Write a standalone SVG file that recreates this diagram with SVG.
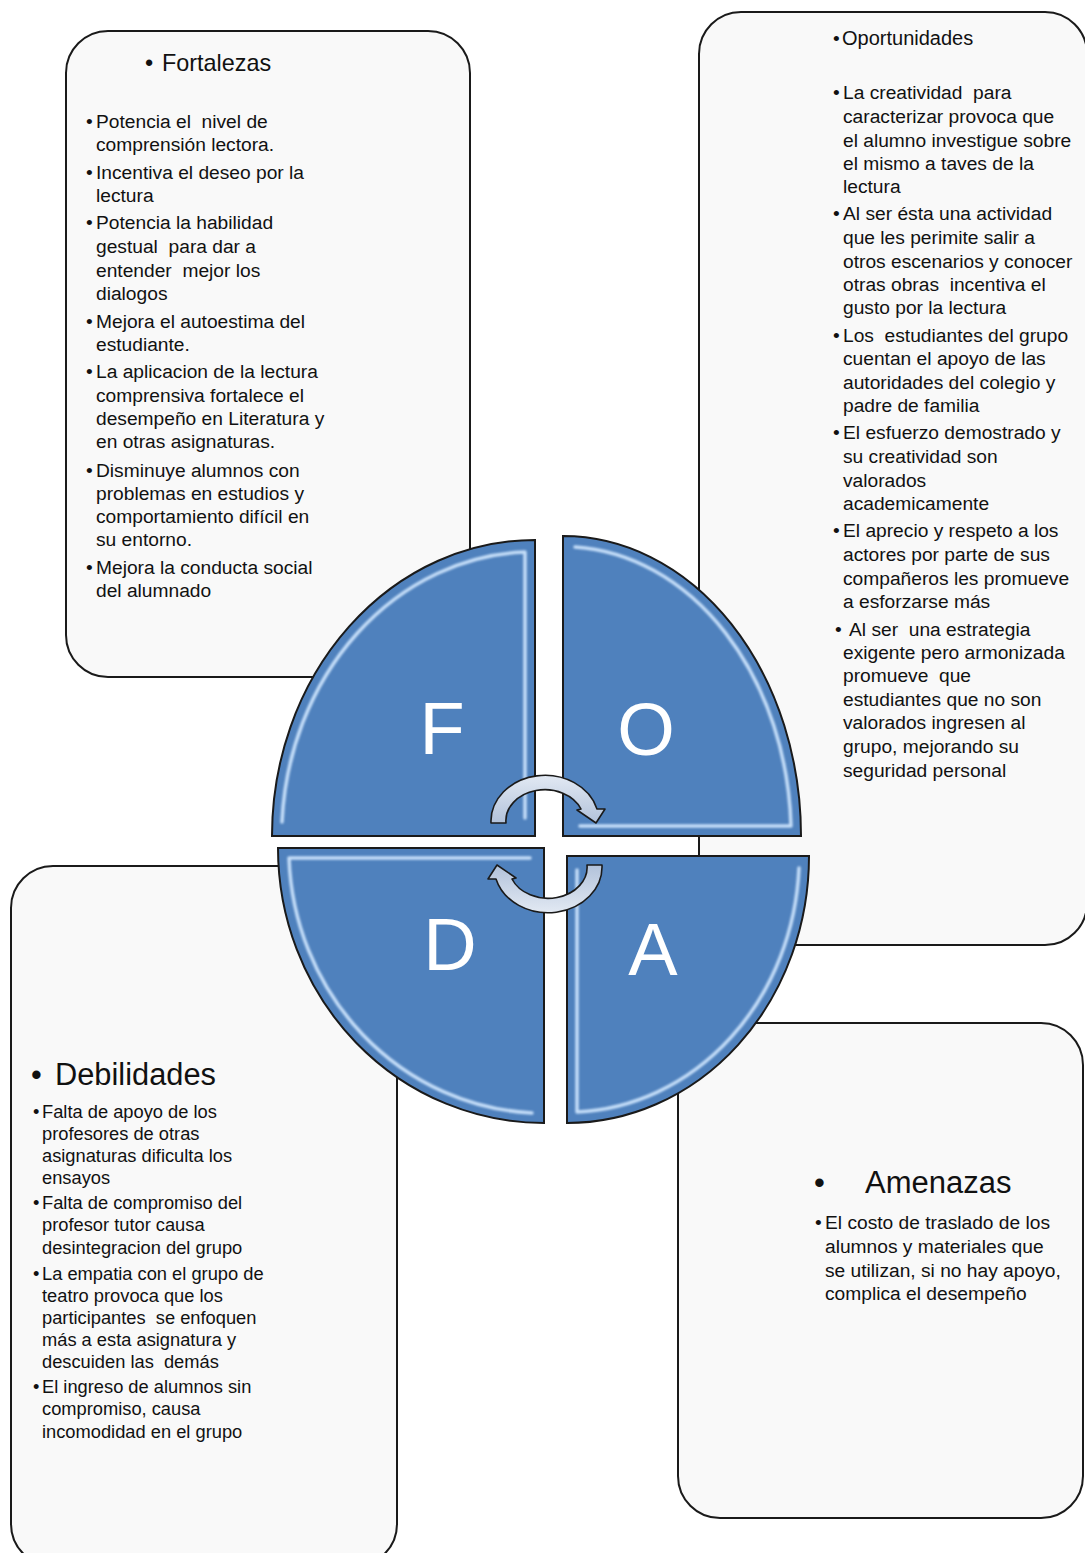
<svg xmlns="http://www.w3.org/2000/svg" width="1085" height="1553" viewBox="0 0 1085 1553">
<defs>
<style>
.box{fill:#f9f9f9;stroke:#1a1a1a;stroke-width:2}
.t{font-family:"Liberation Sans",Arial,sans-serif;fill:#111;white-space:pre}
.b{font-size:19.2px}
.bd{font-size:18.3px}
.piece{fill:#4f81bd;stroke:#1a1a1a;stroke-width:2}
.hl{fill:none;stroke:#d2e8ff;stroke-width:3.5;stroke-linecap:round;stroke-linejoin:round;opacity:0.9}
.big{font-family:"Liberation Sans",Arial,sans-serif;font-size:74px;fill:#ffffff;text-anchor:middle}
.arr{fill:url(#ag);stroke:#1a1a1a;stroke-width:1.6;stroke-linejoin:round}
</style>
<linearGradient id="ag" x1="0" y1="0" x2="0" y2="1">
<stop offset="0" stop-color="#e2e9f3"/>
<stop offset="1" stop-color="#b2c2da"/>
</linearGradient>
<filter id="soft" x="-5%" y="-5%" width="110%" height="110%">
<feGaussianBlur stdDeviation="0.8"/>
</filter>
</defs>
<rect width="1085" height="1553" fill="#ffffff"/>

<g id="node-fortalezas">
<rect class="box" x="66" y="31" width="404" height="646" rx="42" ry="42"/>
<text class="t" x="145" y="71" font-size="23.4">•</text>
<text class="t" x="162" y="71" font-size="23.4">Fortalezas</text>
<g class="t b">
<text x="86" y="128">•</text><text x="96" y="128" xml:space="preserve">Potencia el  nivel de</text>
<text x="96" y="151">comprensión lectora.</text>
<text x="86" y="179">•</text><text x="96" y="179">Incentiva el deseo por la</text>
<text x="96" y="202">lectura</text>
<text x="86" y="229">•</text><text x="96" y="229">Potencia la habilidad</text>
<text x="96" y="253" xml:space="preserve">gestual  para dar a</text>
<text x="96" y="277" xml:space="preserve">entender  mejor los</text>
<text x="96" y="300">dialogos</text>
<text x="86" y="328">•</text><text x="96" y="328">Mejora el autoestima del</text>
<text x="96" y="351">estudiante.</text>
<text x="86" y="378">•</text><text x="96" y="378">La aplicacion de la lectura</text>
<text x="96" y="402">comprensiva fortalece el</text>
<text x="96" y="425">desempeño en Literatura y</text>
<text x="96" y="448">en otras asignaturas.</text>
<text x="86" y="477">•</text><text x="96" y="477">Disminuye alumnos con</text>
<text x="96" y="500">problemas en estudios y</text>
<text x="96" y="523">comportamiento difícil en</text>
<text x="96" y="546">su entorno.</text>
<text x="86" y="574">•</text><text x="96" y="574">Mejora la conducta social</text>
<text x="96" y="597">del alumnado</text>
</g>
</g>

<g id="node-oportunidades">
<rect class="box" x="699" y="12" width="388" height="933" rx="42" ry="42"/>
<g class="t b">
<text x="833" y="45">•</text><text x="842" y="45" font-size="20">Oportunidades</text>
<text x="833" y="99">•</text><text x="843" y="99" xml:space="preserve">La creatividad  para</text>
<text x="843" y="123">caracterizar provoca que</text>
<text x="843" y="147">el alumno investigue sobre</text>
<text x="843" y="170">el mismo a taves de la</text>
<text x="843" y="193">lectura</text>
<text x="833" y="220">•</text><text x="843" y="220">Al ser ésta una actividad</text>
<text x="843" y="244">que les perimite salir a</text>
<text x="843" y="268">otros escenarios y conocer</text>
<text x="843" y="291" xml:space="preserve">otras obras  incentiva el</text>
<text x="843" y="314">gusto por la lectura</text>
<text x="833" y="342">•</text><text x="843" y="342" xml:space="preserve">Los  estudiantes del grupo</text>
<text x="843" y="365">cuentan el apoyo de las</text>
<text x="843" y="389">autoridades del colegio y</text>
<text x="843" y="412">padre de familia</text>
<text x="833" y="439">•</text><text x="843" y="439">El esfuerzo demostrado y</text>
<text x="843" y="463">su creatividad son</text>
<text x="843" y="487">valorados</text>
<text x="843" y="510">academicamente</text>
<text x="833" y="537">•</text><text x="843" y="537">El aprecio y respeto a los</text>
<text x="843" y="561">actores por parte de sus</text>
<text x="843" y="585">compañeros les promueve</text>
<text x="843" y="608">a esforzarse más</text>
<text x="835" y="636">•</text><text x="849" y="636" xml:space="preserve">Al ser  una estrategia</text>
<text x="843" y="659">exigente pero armonizada</text>
<text x="843" y="682" xml:space="preserve">promueve  que</text>
<text x="843" y="706">estudiantes que no son</text>
<text x="843" y="729">valorados ingresen al</text>
<text x="843" y="753">grupo, mejorando su</text>
<text x="843" y="777">seguridad personal</text>
</g>
</g>

<g id="node-debilidades">
<rect class="box" x="11" y="866" width="386" height="700" rx="42" ry="42"/>
<text class="t" x="31" y="1085" font-size="30.8">•</text>
<text class="t" x="55" y="1085" font-size="30.8">Debilidades</text>
<g class="t bd">
<text x="33" y="1118">•</text><text x="42" y="1118">Falta de apoyo de los</text>
<text x="42" y="1140">profesores de otras</text>
<text x="42" y="1162">asignaturas dificulta los</text>
<text x="42" y="1184">ensayos</text>
<text x="33" y="1209">•</text><text x="42" y="1209">Falta de compromiso del</text>
<text x="42" y="1231">profesor tutor causa</text>
<text x="42" y="1254">desintegracion del grupo</text>
<text x="33" y="1280">•</text><text x="42" y="1280">La empatia con el grupo de</text>
<text x="42" y="1302">teatro provoca que los</text>
<text x="42" y="1324" xml:space="preserve">participantes  se enfoquen</text>
<text x="42" y="1346">más a esta asignatura y</text>
<text x="42" y="1368" xml:space="preserve">descuiden las  demás</text>
<text x="33" y="1393">•</text><text x="42" y="1393">El ingreso de alumnos sin</text>
<text x="42" y="1415">compromiso, causa</text>
<text x="42" y="1438">incomodidad en el grupo</text>
</g>
</g>

<g id="node-amenazas">
<rect class="box" x="678" y="1023" width="405" height="495" rx="42" ry="42"/>
<text class="t" x="814" y="1193" font-size="31">•</text>
<text class="t" x="865" y="1193" font-size="31">Amenazas</text>
<g class="t b">
<text x="815" y="1229">•</text><text x="825" y="1229">El costo de traslado de los</text>
<text x="825" y="1253">alumnos y materiales que</text>
<text x="825" y="1277">se utilizan, si no hay apoyo,</text>
<text x="825" y="1300">complica el desempeño</text>
</g>
</g>

<g id="node-F">
<path class="piece" d="M535,540 L535,836 L272,836 A263,296 0 0 1 535,540 Z"/>
<path class="hl" filter="url(#soft)" d="M282,822 A252,285 0 0 1 525,552 L525,818"/>
<text class="big" x="442" y="754">F</text>
</g>
<g id="node-O">
<path class="piece" d="M563,536 A238,300 0 0 1 801,836 L563,836 Z"/>
<path class="hl" filter="url(#soft)" d="M575,547 A228,290 0 0 1 791,826 L580,826"/>
<text class="big" x="646" y="755">O</text>
</g>
<g id="node-D">
<path class="piece" d="M278,848 L544,848 L544,1123 A266,275 0 0 1 278,848 Z"/>
<path class="hl" filter="url(#soft)" d="M530,858 L289,858 A256,265 0 0 0 532,1113"/>
<text class="big" x="450" y="970">D</text>
</g>
<g id="node-A">
<path class="piece" d="M567,856 L809,856 A242,267 0 0 1 567,1123 Z"/>
<path class="hl" filter="url(#soft)" d="M577,870 L577,1112 A232,257 0 0 0 799,868"/>
<text class="big" x="653" y="975">A</text>
</g>

<g id="connectors">
<path class="arr" d="M491,823 A54,46 0 0 1 597,809 L605,809 L596,823 L577,810 L581,809 A39,31 0 0 0 506,823 Z"/>
<path class="arr" transform="rotate(180 546.5 844)" d="M491,823 A54,46 0 0 1 597,809 L605,809 L596,823 L577,810 L581,809 A39,31 0 0 0 506,823 Z"/>
</g>
</svg>
